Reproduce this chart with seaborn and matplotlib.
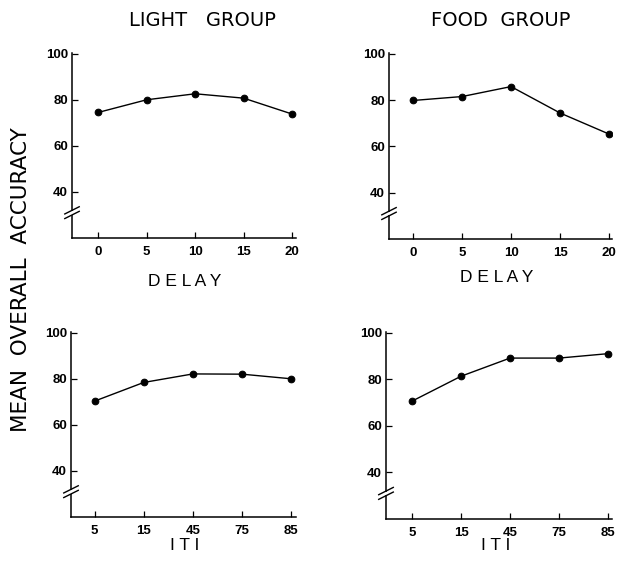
import matplotlib
matplotlib.use("Agg")
import matplotlib.pyplot as plt
import matplotlib.transforms as mtransforms
import seaborn as sns

sns.set_style("ticks")
plt.rcParams['font.family'] = ['Liberation Sans', 'DejaVu Sans']
plt.rcParams['xtick.direction'] = 'in'
plt.rcParams['ytick.direction'] = 'in'

delay_ticks = [0, 5, 10, 15, 20]
iti_labels = ["5", "15", "45", "75", "85"]

light_delay = [74.5, 80.0, 82.6, 80.7, 73.8]
food_delay = [79.8, 81.5, 85.8, 74.4, 65.3]
light_iti = [70.3, 78.4, 82.1, 82.0, 80.0]
food_iti = [70.6, 81.3, 89.1, 89.1, 91.0]

fig = plt.figure(figsize=(6.18, 5.65), dpi=100)

W, H = 618.0, 565.0
def box(l, r, t, b):
    return [l / W, 1 - b / H, (r - l) / W, (b - t) / H]

ax_ld = fig.add_axes(box(72, 296, 53, 238))
ax_fd = fig.add_axes(box(389, 612, 53, 239))
ax_li = fig.add_axes(box(71, 296, 332, 517))
ax_fi = fig.add_axes(box(386, 612, 332, 519))

def style(ax):
    sns.despine(ax=ax)
    ax.set_ylim(20, 100.3)
    ax.set_yticks([40, 60, 80, 100])
    ax.set_yticklabels(["40", "60", "80", "100"], fontweight='bold', fontsize=9.5)
    ax.tick_params(axis='both', direction='in', length=4, width=0.9, colors='black', pad=3)
    ax.tick_params(axis='x', labelsize=9.5, pad=6)
    for lbl in ax.get_xticklabels():
        lbl.set_fontweight('bold')
    for s in ['left', 'bottom']:
        ax.spines[s].set_linewidth(1.1)
        ax.spines[s].set_color('black')
    ax.set_xlabel("")
    ax.set_ylabel("")
    ax.set_facecolor('white')
    # axis break marks
    tr = mtransforms.blended_transform_factory(ax.transAxes, ax.transData)
    ax.add_patch(plt.Rectangle((-0.02, 30.2), 0.04, 1.6, transform=tr, color='white',
                               clip_on=False, zorder=3, lw=0))
    for yy in (30.0, 32.0):
        ax.plot([-0.035, 0.035], [yy - 1.7, yy + 1.7], transform=tr, color='black',
                lw=1.0, clip_on=False, solid_capstyle='butt', zorder=4)

kw = dict(color='black', marker='o', markersize=4.8, linewidth=1.0,
          markeredgecolor='black', legend=False)

sns.lineplot(x=delay_ticks, y=light_delay, ax=ax_ld, **kw)
ax_ld.set_xlim(-2.7, 20.4)
ax_ld.set_xticks(delay_ticks)
ax_ld.set_xticklabels([str(v) for v in delay_ticks])

sns.lineplot(x=delay_ticks, y=food_delay, ax=ax_fd, **kw)
ax_fd.set_xlim(-2.45, 20.3)
ax_fd.set_xticks(delay_ticks)
ax_fd.set_xticklabels([str(v) for v in delay_ticks])

pos = list(range(len(iti_labels)))
sns.lineplot(x=pos, y=light_iti, ax=ax_li, **kw)
ax_li.set_xlim(-0.48, 4.1)
ax_li.set_xticks(pos)
ax_li.set_xticklabels(iti_labels)

sns.lineplot(x=pos, y=food_iti, ax=ax_fi, **kw)
ax_fi.set_xlim(-0.53, 4.08)
ax_fi.set_xticks(pos)
ax_fi.set_xticklabels(iti_labels)

for ax in (ax_ld, ax_fd, ax_li, ax_fi):
    style(ax)

def ftext(x, y, s, **k):
    fig.text(x / W, 1 - y / H, s, ha='center', va='center', color='black', **k)

ftext(202, 20, "LIGHT   GROUP", fontsize=14, family=['DejaVu Sans'])
ftext(501, 20, "FOOD  GROUP", fontsize=14, family=['DejaVu Sans'])
ftext(185, 282, "D E L A Y", fontsize=12.5)
ftext(497, 278, "D E L A Y", fontsize=12.5)
ftext(185, 546, "I T I", fontsize=12.5)
ftext(496, 546, "I T I", fontsize=12.5)
ftext(21, 280, "MEAN  OVERALL  ACCURACY", fontsize=15.5, rotation=90,
      family=['DejaVu Sans'])

fig.savefig("out.png", dpi=100, facecolor='white')
